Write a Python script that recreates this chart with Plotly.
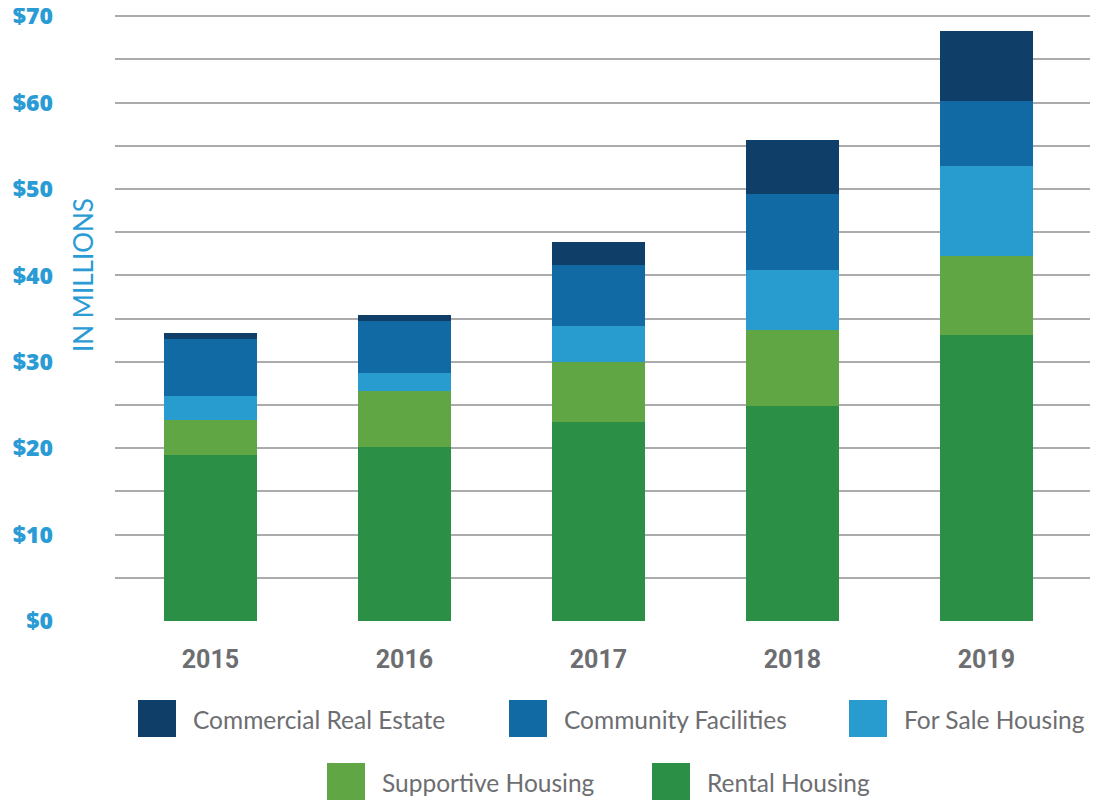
import plotly.graph_objects as go

years = ["2015", "2016", "2017", "2018", "2019"]
# segment values (in $ millions)
rental = [19.2, 20.2, 23.0, 24.9, 33.1]
supportive = [4.1, 6.4, 7.0, 8.8, 9.2]
for_sale = [2.7, 2.1, 4.2, 6.9, 10.4]
community = [6.6, 6.0, 7.0, 8.8, 7.5]
commercial = [0.7, 0.7, 2.7, 6.3, 8.1]

series = [
    ("Rental Housing", rental, "#2b8f45"),
    ("Supportive Housing", supportive, "#60a645"),
    ("For Sale Housing", for_sale, "#289bcf"),
    ("Community Facilities", community, "#126aa4"),
    ("Commercial Real Estate", commercial, "#0f3e68"),
]

y_tick_vals = list(range(0, 71, 5))
y_tick_text = [f"${v}" if v % 10 == 0 else "" for v in y_tick_vals]

fig = go.Figure()
for name, vals, color in series:
    fig.add_trace(go.Bar(x=years, y=vals, name=name, marker=dict(color=color, line=dict(width=0)),
                         width=0.48, showlegend=False))

OFF = 8  # page body margin
W, H = 1098 - OFF, 801 - OFF
L, R, T, B = 115 - OFF, 1098 - OFF, 15 - OFF, 621 - OFF


def xp(px):
    px -= OFF
    return (px - L) / (R - L)


def yp(py):
    py -= OFF
    return (B - py) / (B - T)


shapes = []
annotations = []
legend_items = [
    ("Commercial Real Estate", "#0f3e68", 138, 700),
    ("Community Facilities", "#126aa4", 509, 700),
    ("For Sale Housing", "#289bcf", 849, 700),
    ("Supportive Housing", "#60a645", 327, 763),
    ("Rental Housing", "#2b8f45", 652, 763),
]
for name, color, x0, y0 in legend_items:
    shapes.append(dict(type="rect", xref="paper", yref="paper",
                       x0=xp(x0), x1=xp(x0 + 38), y0=yp(y0 + 37), y1=yp(y0),
                       fillcolor=color, line=dict(width=0), layer="above"))
    annotations.append(dict(xref="paper", yref="paper", x=xp(x0 + 53), y=yp(y0 + 19),
                            xanchor="left", yanchor="middle", showarrow=False, text=name,
                            font=dict(family="Lato", size=24.5, color="#6d6e71")))

annotations.append(dict(xref="paper", yref="paper", x=xp(83), y=yp(275), textangle=-90,
                        xanchor="center", yanchor="middle", showarrow=False, text="IN MILLIONS",
                        font=dict(family="Lato", size=26, color="#2a9bd4")))

fig.update_layout(
    barmode="stack",
    width=W, height=H,
    margin=dict(l=L, r=W - R, t=T, b=H - B, autoexpand=False),
    plot_bgcolor="white", paper_bgcolor="white",
    shapes=shapes, annotations=annotations,
)
fig.update_xaxes(range=[-0.492, 4.575], showgrid=False, zeroline=False, showline=False,
                 automargin=False,
                 tickfont=dict(family="Roboto", size=25, color="#6d6e71", weight="bold"),
                 ticklabelstandoff=21)
fig.update_yaxes(range=[0, 70.15], tickvals=y_tick_vals, ticktext=y_tick_text,
                 showgrid=True, gridcolor="#ababae", gridwidth=2, zeroline=False, showline=False,
                 automargin=False,
                 tickfont=dict(family="Open Sans", size=23, color="#2a9bd4", weight=800),
                 ticklabelstandoff=61, ticklabeloverflow="allow")

fig.write_html("out.html")
